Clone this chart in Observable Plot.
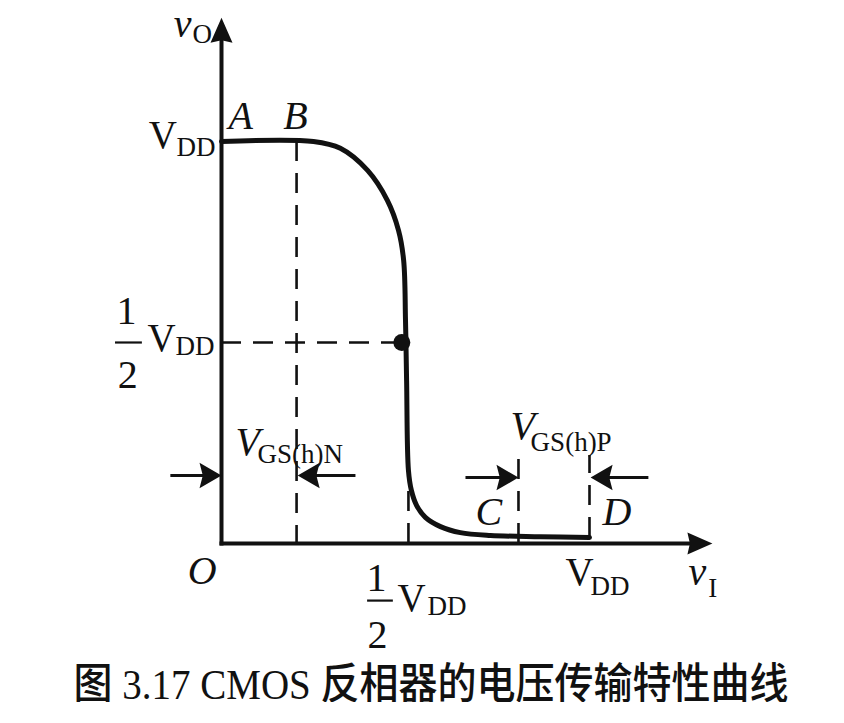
<!DOCTYPE html>
<html><head><meta charset="utf-8">
<script src="https://cdn.jsdelivr.net/npm/d3@7"></script>
<script src="https://cdn.jsdelivr.net/npm/@observablehq/plot@0.6"></script>
<style>
html,body{margin:0;padding:0;background:#fff;}
#chart{width:844px;height:650px;}
#caption{font-family:"Liberation Serif","Noto Sans CJK SC",serif;font-size:39px;line-height:39px;font-weight:500;text-align:center;padding-left:18px;margin-top:13px;color:#111;white-space:nowrap;transform:scaleY(1.1);transform-origin:top center;}
</style></head><body>
<div id="chart"></div>
<div id="caption">图 3.17 CMOS 反相器的电压传输特性曲线</div>
<script>
// Transfer curve (units of VDD)
const vI = [0, 0.25, 0.323, 0.397, 0.451, 0.481, 0.495, 0.500, 0.503, 0.508, 0.516, 0.530, 0.554, 0.595, 0.649, 0.731, 0.867, 1.0];
const vO = [1, 1, 0.983, 0.928, 0.853, 0.779, 0.704, 0.555, 0.405, 0.182, 0.132, 0.095, 0.065, 0.042, 0.027, 0.020, 0.017, 0.015];
// Half-VDD point
const midPoint = [{x: 0.49, y: 0.5}];
// Axes (with arrow tips)
const axisLines = [{x1: 0, y1: 0, x2: 0, y2: 1.308}, {x1: 0, y1: 0, x2: 1.334, y2: 0}];
// Dashed guide lines
const dashedV = [
  {x: 0.204, y1: 1, y2: 0},
  {x: 0.508, y1: 0, y2: 0.16},
  {x: 0.807, y1: 0, y2: 0.219},
  {x: 1.0, y1: 0.015, y2: 0.219}
];
const dashedH = [{y: 0.5, x1: 0, x2: 0.49}];
// Threshold-voltage arrows
const smallArrows = [
  {x1: -0.139, x2: 0, y: 0.169},
  {x1: 0.364, x2: 0.207, y: 0.169},
  {x1: 0.663, x2: 0.807, y: 0.164},
  {x1: 1.16, x2: 1.003, y: 0.164}
];
// Labels (anchor in data units, baseline/left)
const italicLabels = [
  {text: "v", x: -0.130, y: 1.259},
  {text: "A", x: 0.019, y: 1.032},
  {text: "B", x: 0.168, y: 1.032},
  {text: "O", x: -0.092, y: -0.100},
  {text: "V", x: 0.038, y: 0.219},
  {text: "V", x: 0.785, y: 0.261},
  {text: "C", x: 0.690, y: 0.045},
  {text: "D", x: 1.035, y: 0.045},
  {text: "v", x: 1.269, y: -0.104}
];
const romanLabels = [
  {text: "V", x: -0.198, y: 0.983},
  {text: "V", x: -0.201, y: 0.480},
  {text: "V", x: 0.478, y: -0.167},
  {text: "V", x: 0.935, y: -0.104}
];
const subLabels = [
  {text: "O", x: -0.079, y: 1.244},
  {text: "DD", x: -0.122, y: 0.965},
  {text: "DD", x: -0.125, y: 0.468},
  {text: "DD", x: 0.560, y: -0.179},
  {text: "DD", x: 1.003, y: -0.129},
  {text: "I", x: 1.323, y: -0.134},
  {text: "GS(h)N", x: 0.098, y: 0.201},
  {text: "GS(h)P", x: 0.840, y: 0.231}
];
const fractionDigits = [
  {text: "1", x: -0.258, y: 0.547},
  {text: "2", x: -0.255, y: 0.388},
  {text: "1", x: 0.421, y: -0.117},
  {text: "2", x: 0.424, y: -0.259}
];
const fractionBars = [
  {y: 0.5, x1: -0.288, x2: -0.215},
  {y: -0.142, x1: 0.397, x2: 0.467}
];

const curveData = vI.map((x, i) => ({x, y: vO[i]}));

function headSymbol(ratio, notch) {
  return {
    draw(context, size) {
      const L = Math.sqrt(size / Math.PI);
      const W = L * ratio;
      context.moveTo(0, 0);
      context.lineTo(W, L);
      context.lineTo(0, L * notch);
      context.lineTo(-W, L);
      context.closePath();
    }
  };
}
const axisHead = headSymbol(0.44, 0.9);
const smallHead = headSymbol(0.58, 0.85);
const dirAngle = d => d.x2 > d.x1 ? 90 : d.x2 < d.x1 ? -90 : 0;

const serif = "Liberation Serif";

const chart = Plot.plot({
  width: 844,
  height: 650,
  margin: 0,
  x: {domain: [0, 1], range: [221, 589], axis: null},
  y: {domain: [0, 1], range: [543, 141], axis: null},
  style: {background: "white", overflow: "visible", color: "black"},
  marks: [
    Plot.ruleX(dashedV, {x: "x", y1: "y1", y2: "y2", stroke: "#111", strokeWidth: 2.6, strokeDasharray: "20,12"}),
    Plot.ruleY(dashedH, {y: "y", x1: "x1", x2: "x2", stroke: "#111", strokeWidth: 2.6, strokeDasharray: "20,12"}),
    Plot.arrow(axisLines, {x1: "x1", y1: "y1", x2: "x2", y2: "y2", headLength: 0, insetEnd: 12, stroke: "#111", strokeWidth: 4, strokeLinecap: "square"}),
    Plot.dot(axisLines, {x: "x2", y: "y2", r: 25, symbol: axisHead, rotate: dirAngle, fill: "#111", stroke: "none"}),
    Plot.arrow(smallArrows, {x1: "x1", y1: "y", x2: "x2", y2: "y", headLength: 0, insetEnd: 10, stroke: "#111", strokeWidth: 3, strokeLinecap: "butt"}),
    Plot.dot(smallArrows, {x: "x2", y: "y", r: 22, symbol: smallHead, rotate: dirAngle, fill: "#111", stroke: "none"}),
    Plot.line(curveData, {x: "x", y: "y", curve: "catmull-rom", stroke: "#111", strokeWidth: 5}),
    Plot.dot(midPoint, {x: "x", y: "y", r: 8.5, fill: "#111", stroke: "none"}),
    Plot.ruleY(fractionBars, {y: "y", x1: "x1", x2: "x2", stroke: "#111", strokeWidth: 2.2}),
    Plot.text(italicLabels, {x: "x", y: "y", text: "text", textAnchor: "start", lineAnchor: "bottom", fontFamily: serif, fontStyle: "italic", fontSize: 40, fill: "#111"}),
    Plot.text(romanLabels, {x: "x", y: "y", text: "text", textAnchor: "start", lineAnchor: "bottom", fontFamily: serif, fontSize: 39, fill: "#111"}),
    Plot.text(subLabels, {x: "x", y: "y", text: "text", textAnchor: "start", lineAnchor: "bottom", fontFamily: serif, fontSize: 27, fill: "#111"}),
    Plot.text(fractionDigits, {x: "x", y: "y", text: "text", textAnchor: "middle", lineAnchor: "bottom", fontFamily: serif, fontSize: 40, fill: "#111"})
  ]
});
document.getElementById("chart").appendChild(chart);
</script>
</body></html>
